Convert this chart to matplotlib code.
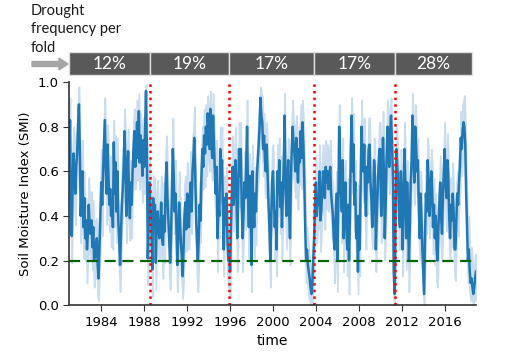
import numpy as np
import matplotlib.pyplot as plt
from matplotlib.patches import Rectangle, FancyArrow
from matplotlib.transforms import IdentityTransform, blended_transform_factory

start_year = 1981

# monthly SMI in hundredths, one row per year 1981..2018
smi_rows = [
    "62 83 45 31 55 68 58 50 62 68 80 90",
    "70 40 52 60 35 48 30 38 25 32 45 35",
    "32 38 26 35 20 28 22 30 18 12 26 40",
    "55 45 60 72 83 62 50 72 58 45 52 40",
    "48 35 73 50 64 42 60 38 30 18 32 45",
    "52 62 78 64 40 56 69 50 39 55 45 60",
    "70 78 62 70 82 66 87 64 76 69 58 74",
    "62 80 96 70 21 35 55 42 39 16 48 40",
    "45 19 38 42 34 30 36 46 30 27 40 33",
    "55 64 48 38 28 19 30 52 70 58 42 50",
    "35 18 30 46 38 28 22 13 25 40 46 34",
    "50 42 35 48 55 42 60 66 75 60 40 28",
    "20 30 45 38 58 70 62 76 68 80 72 86",
    "78 70 88 74 66 85 72 60 50 62 30 45",
    "40 70 58 65 42 25 48 36 50 30 20 24",
    "15 35 50 62 45 55 65 52 30 48 70 58",
    "70 45 30 40 55 48 62 80 52 35 58 44",
    "18 60 45 35 50 42 58 65 72 80 93 85",
    "82 70 76 65 60 72 58 45 35 20 38 55",
    "60 48 35 42 25 60 50 65 44 55 35 48",
    "62 85 55 40 52 65 44 30 55 70 80 72",
    "68 60 75 62 55 70 64 78 66 82 72 55",
    "35 20 25 18 15 12 8 5 10 20 30 45",
    "55 40 48 45 60 38 42 52 60 55 48 62",
    "55 60 52 58 62 50 45 40 30 25 38 50",
    "20 45 80 62 50 42 65 30 48 55 35 25",
    "45 20 38 70 85 60 72 45 55 30 40 15",
    "40 25 55 80 66 60 72 50 40 62 55 70",
    "72 55 48 35 45 65 58 25 40 50 62 70",
    "70 40 55 75 60 30 45 65 80 72 62 78",
    "85 72 60 15 5 40 70 62 55 40 35 60",
    "50 25 45 70 55 30 55 40 20 35 55 65",
    "85 70 55 80 72 60 65 45 30 50 40 25",
    "15 5 30 50 42 65 55 40 48 60 52 35",
    "45 30 40 25 20 35 45 55 40 32 48 60",
    "70 55 48 65 58 40 30 45 38 50 42 25",
    "25 38 50 45 55 62 75 70 78 82 80 72",
    "50 35 20 25 15 10 12 8 5 8 12 15",
]

# spread of the ensemble above / below the mean (hundredths)
up_rows = [
    "14 10 18 9 15 12 16 10 14 12 10 8",
    "12 16 10 14 9 12 15 10 13 9 12 14",
    "10 13 9 12 15 10 14 9 12 8 14 12",
    "15 10 14 12 10 16 12 9 14 10 15 12",
    "12 16 10 14 12 9 15 12 10 14 12 15",
    "14 12 10 15 12 14 10 12 15 10 14 12",
    "12 10 15 12 10 14 8 15 10 12 14 10",
    "14 10 3 12 16 12 10 14 12 15 10 14",
    "12 16 10 14 12 15 10 12 14 10 15 12",
    "14 12 15 10 14 12 16 12 14 10 12 15",
    "12 15 10 14 12 15 12 16 10 14 12 10",
    "14 10 15 12 14 10 15 12 14 10 12 14",
    "12 15 10 14 12 10 16 12 14 10 12 8",
    "10 14 8 12 15 10 12 14 16 12 15 10",
    "14 10 12 15 12 14 10 15 12 14 12 10",
    "12 15 10 14 12 10 15 12 14 10 12 14",
    "12 14 15 10 14 12 10 12 14 12 10 14",
    "15 12 14 10 12 15 10 12 14 10 5 10",
    "12 14 10 12 15 10 12 14 12 15 10 14",
    "12 14 15 10 14 12 15 10 14 12 15 10",
    "14 10 12 15 12 10 14 12 10 14 12 10",
    "12 14 10 14 12 10 15 12 14 10 12 15",
    "14 12 10 12 10 8 10 8 10 12 14 10",
    "12 15 10 14 12 15 10 14 12 10 15 12",
    "14 12 15 10 12 14 12 15 10 14 12 10",
    "15 12 10 14 12 15 10 14 12 10 15 12",
    "12 15 14 10 8 12 14 12 10 15 12 14",
    "14 12 10 12 14 10 12 15 14 10 12 14",
    "12 10 14 15 12 10 14 12 15 12 10 12",
    "12 14 10 12 14 15 12 10 12 14 12 10",
    "8 10 12 14 10 12 10 14 12 15 12 10",
    "12 15 10 12 14 12 10 14 15 12 10 12",
    "10 12 14 10 12 14 10 12 15 10 14 12",
    "12 10 14 12 15 10 12 14 12 10 12 15",
    "12 14 10 15 12 14 10 12 14 12 10 12",
    "12 10 14 12 10 15 14 12 10 14 12 15",
    "14 12 10 15 12 10 12 10 12 10 14 12",
    "10 14 12 15 12 10 14 12 10 8 10 8",
]
dn_rows = [
    "12 14 10 12 15 10 12 14 10 15 12 10",
    "14 12 15 10 14 12 10 12 15 10 14 12",
    "12 15 10 14 12 15 10 12 14 10 12 14",
    "10 14 12 15 10 12 14 10 15 12 10 14",
    "14 10 12 15 12 14 10 12 15 12 14 10",
    "12 14 15 10 12 15 12 14 10 12 15 12",
    "15 12 10 14 12 10 15 12 14 10 12 14",
    "12 14 15 10 12 14 10 12 15 12 14 10",
    "14 12 10 15 12 10 14 12 10 15 12 14",
    "12 15 12 10 14 12 10 15 12 14 10 12",
    "14 12 15 10 12 14 12 10 14 12 15 10",
    "12 14 10 12 15 10 14 12 10 14 12 15",
    "14 12 15 10 12 14 10 12 15 10 14 12",
    "12 10 14 12 10 15 12 14 10 12 15 12",
    "10 14 12 10 15 12 14 10 12 15 12 14",
    "12 14 10 15 12 14 10 12 15 12 10 14",
    "14 12 15 10 12 14 12 15 10 14 12 10",
    "12 15 10 14 12 15 10 12 14 12 15 10",
    "14 12 10 15 12 14 10 12 14 12 10 15",
    "12 14 15 10 12 15 10 14 12 10 15 12",
    "10 14 12 15 10 12 14 12 15 10 12 14",
    "14 12 10 15 12 14 10 12 14 12 15 10",
    "12 10 14 10 12 10 8 5 10 12 14 12",
    "14 12 15 10 12 14 12 10 15 12 14 10",
    "12 14 10 12 15 10 14 12 10 15 12 14",
    "14 12 15 10 12 14 10 15 12 14 10 12",
    "12 15 10 14 12 10 15 12 14 10 12 10",
    "14 12 10 15 12 14 10 12 15 10 14 12",
    "12 14 15 10 12 14 12 10 14 12 15 10",
    "14 12 10 15 12 10 14 12 15 10 12 14",
    "12 14 10 12 5 12 14 10 12 15 10 12",
    "14 12 15 10 12 14 10 12 14 15 12 10",
    "12 14 10 15 12 10 14 12 10 15 12 14",
    "10 5 12 14 10 12 14 10 12 14 15 12",
    "14 12 10 15 12 14 12 10 15 12 14 10",
    "12 14 15 10 12 14 10 15 12 10 14 12",
    "14 12 10 14 12 15 10 12 14 12 10 14",
    "12 14 10 12 10 8 10 6 5 6 10 12",
]

fold_edges = [1981.0, 1988.58, 1995.9, 2003.79, 2011.4, 2018.55]
fold_freq = ["12%", "19%", "17%", "17%", "28%"]
drought_level = 0.2


def parse(rows):
    return np.array([int(v) for r in rows for v in r.split()]) / 100.0


smi = parse(smi_rows)
up = parse(up_rows)
dn = parse(dn_rows)
t = start_year + np.arange(len(smi)) / 12.0
lo = np.clip(smi - dn, 0, None)
hi = np.clip(smi + up, None, 1.0)

fig = plt.figure(figsize=(5.08, 3.54), dpi=100)
ax = fig.add_axes([0.136, 0.138, 0.801, 0.630])

ax.fill_between(t, lo, hi, facecolor='#c9ddef', edgecolor='#c9ddef', lw=1.2)
ax.plot(t, smi, color='#1f77b4', lw=1.8)
ax.axhline(drought_level, color='darkgreen', ls='--', lw=1.6, dashes=(5, 3))
for x in fold_edges[1:-1]:
    ax.axvline(x, color='red', ls=':', lw=1.8)

ax.set_xlim(t[0], t[-1])
ax.set_ylim(0, 1.0)
ax.set_xticks(range(1984, 2017, 4))
ax.set_yticks(np.arange(0, 1.01, 0.2))
ax.tick_params(labelsize=9.5, length=4, color='#333333')
ax.set_xlabel('time', fontsize=10)
ax.set_ylabel('Soil Moisture Index (SMI)', fontsize=9.5)
for s in ['top', 'right']:
    ax.spines[s].set_visible(False)
for s in ['left', 'bottom']:
    ax.spines[s].set_color('#333333')
    ax.spines[s].set_linewidth(1.2)

# drought-frequency header boxes
tr = blended_transform_factory(ax.transData, ax.transAxes)
for i, lab in enumerate(fold_freq):
    x0, x1 = fold_edges[i], fold_edges[i + 1]
    ax.add_patch(Rectangle((x0, 1.031), x1 - x0, 0.104, transform=tr,
                           facecolor='#595959', edgecolor='#e0e0e0', lw=1,
                           clip_on=False))
    ax.text((x0 + x1) / 2, 1.080, lab, transform=tr, ha='center', va='center',
            color='white', fontsize=12.5, family='Lato', clip_on=False)

fig.text(31 / 508, 0.99, 'Drought\nfrequency per\nfold', ha='left', va='top',
         fontsize=10.5, family='Lato', linespacing=1.42, color='#1a1a1a')
fig.patches.append(FancyArrow(32, 290, 27, 0, width=5, head_width=12,
                              head_length=9, length_includes_head=False,
                              color='#a6a6a6', transform=IdentityTransform()))

fig.savefig('out.png', dpi=100)
